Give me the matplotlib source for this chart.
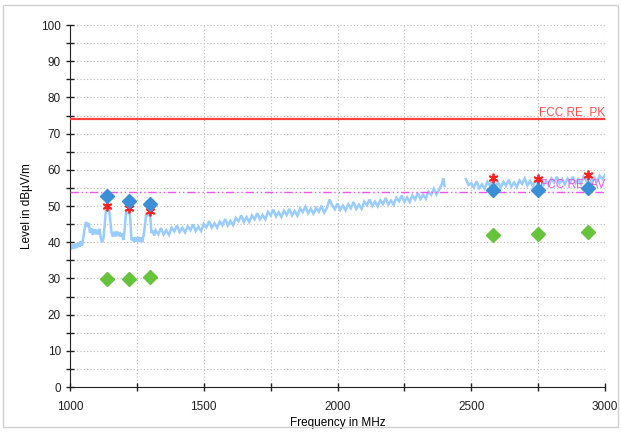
import numpy as np
import matplotlib
matplotlib.use("Agg")
import matplotlib.pyplot as plt
from matplotlib.ticker import MultipleLocator
from matplotlib.patches import Rectangle

plt.rcParams['font.family'] = ['Liberation Sans', 'DejaVu Sans']

# ---- data ----
trace_freq_1 = list(range(1000, 1320, 5))
trace_level_1 = [39.2, 38.0, 39.4, 38.2, 39.6, 38.4, 39.8, 38.7, 40.3, 39.0,
                 41.5, 43.8, 45.6, 44.2, 45.3, 42.6, 43.8, 42.0, 43.6, 42.2,
                 43.5, 42.1, 43.7, 41.2, 40.0, 41.0, 45.0, 49.5, 48.6, 50.0,
                 46.5, 42.8, 41.5, 42.9, 41.6, 43.0, 41.7, 42.8, 41.5, 42.5,
                 40.6, 44.0, 49.0, 47.8, 49.6, 46.5, 40.5, 41.3, 40.0, 41.4,
                 40.2, 41.5, 40.1, 41.3, 40.0, 41.8, 44.5, 48.0, 47.2, 48.8,
                 47.0, 42.5, 43.2, 41.8]
trace_freq_2 = list(range(1320, 2400, 10)) + [2395, 2400]
trace_level_2 = [43.3, 42.2, 43.9, 42.1, 43.3, 42.0, 44.0, 43.0, 44.6, 42.8,
                 44.0, 42.7, 44.4, 43.3, 44.9, 43.1, 44.3, 43.1, 45.1, 44.1,
                 45.8, 44.0, 45.2, 44.0, 45.7, 44.7, 46.4, 44.6, 45.9, 44.7,
                 46.7, 45.8, 47.4, 45.6, 46.9, 45.6, 47.4, 46.3, 48.0, 46.3,
                 47.5, 46.3, 48.4, 47.4, 49.0, 47.1, 48.3, 47.0, 48.7, 47.5,
                 49.2, 47.4, 48.6, 47.3, 49.3, 48.3, 49.8, 48.0, 49.2, 47.9,
                 49.5, 48.4, 50.1, 48.2, 49.4, 51.8, 50.2, 49.1, 50.7, 48.9,
                 50.1, 48.8, 50.5, 49.4, 51.1, 49.2, 50.4, 49.2, 51.2, 50.2,
                 51.8, 50.0, 51.2, 49.9, 51.6, 50.5, 52.2, 50.4, 51.5, 50.3,
                 52.3, 51.3, 52.9, 51.1, 52.4, 51.1, 52.9, 51.8, 53.6, 51.9,
                 53.1, 52.0, 54.0, 53.1, 54.8, 53.2, 54.5, 56.0, 57.7, 55.5]
trace_freq_3 = list(range(2480, 3001, 10))
trace_level_3 = [57.4, 55.8, 56.3, 55.1, 56.8, 54.9, 56.0, 54.8, 56.7, 55.6,
                 57.2, 55.3, 56.5, 55.1, 56.7, 55.6, 57.2, 55.3, 56.5, 55.2,
                 57.1, 56.1, 57.6, 55.7, 56.9, 55.5, 57.2, 56.0, 57.6, 55.8,
                 56.9, 55.7, 57.6, 56.5, 58.1, 56.2, 57.4, 56.0, 57.6, 56.5,
                 58.1, 56.3, 57.4, 56.1, 58.1, 57.0, 58.6, 56.7, 57.9, 56.7,
                 58.4, 57.4, 58.6]

peak_freq = [1140, 1220, 1300, 2580, 2750, 2935]
peak_level = [50.0, 49.5, 48.5, 57.8, 57.5, 58.5]
qp_level = [52.8, 51.5, 50.5, 54.3, 54.5, 55.0]
avg_level = [29.8, 29.7, 30.5, 42.0, 42.2, 42.8]

limit_pk = 74.0
limit_av = 54.0
limit_pk_label = "FCC RE_PK"
limit_av_label = "FCC RE_AV"

# ---- figure ----
fig = plt.figure(figsize=(6.21, 4.32), dpi=100)
fig.patches.append(Rectangle((0.005, 0.012), 0.99, 0.976, transform=fig.transFigure,
                             fill=False, edgecolor="#d0d0d0", linewidth=1.0))
ax = fig.add_axes([70/621, 45/432, 535/621, 362/432])

tc = "#99ccff"
ax.plot(trace_freq_1 + trace_freq_2, trace_level_1 + trace_level_2, color=tc, lw=1.8,
        solid_joinstyle="miter", zorder=2)
ax.plot(trace_freq_3, trace_level_3, color=tc, lw=1.8, solid_joinstyle="miter", zorder=2)

ax.axhline(limit_pk, color="#ff4040", lw=1.6, zorder=3)
ax.axhline(limit_av, color="#ee55ee", lw=1.0, ls=(0, (6, 2, 1, 2, 1, 2)), zorder=3)
ax.text(3000, limit_pk + 0.3, limit_pk_label, color="#ff5050", fontsize=8.5, ha="right", va="bottom", zorder=4)
ax.text(3000, limit_av + 0.3, limit_av_label, color="#ee55ee", fontsize=8.5, ha="right", va="bottom", zorder=4)

ax.plot(peak_freq, peak_level, ls="none", marker=(6, 2, 0), ms=7, mew=1.3, color="#ff2020", zorder=5)
ax.plot(peak_freq, qp_level, ls="none", marker="D", ms=7, color="#3a8fd6", zorder=6)
ax.plot(peak_freq, avg_level, ls="none", marker="D", ms=7, color="#66c43a", zorder=6)

ax.set_xlim(1000, 3000)
ax.set_ylim(0, 100)
ax.xaxis.set_major_locator(MultipleLocator(500))
ax.xaxis.set_minor_locator(MultipleLocator(250))
ax.yaxis.set_major_locator(MultipleLocator(10))
ax.yaxis.set_minor_locator(MultipleLocator(5))
ax.tick_params(which="both", direction="inout", length=6, width=1, labelsize=8.5, colors="#222222")
ax.tick_params(axis="x", which="both", pad=7)
ax.grid(which="both", color="#bbbbbb", ls=(0, (1, 2)), lw=0.8)
for s in ["top", "right"]:
    ax.spines[s].set_visible(False)
for s in ["left", "bottom"]:
    ax.spines[s].set_color("#222222")
ax.set_xlabel("Frequency in MHz", fontsize=8.5, labelpad=3)
ax.set_ylabel("Level in dBµV/m", fontsize=8.5, labelpad=6)

fig.savefig("out.png", dpi=100)
